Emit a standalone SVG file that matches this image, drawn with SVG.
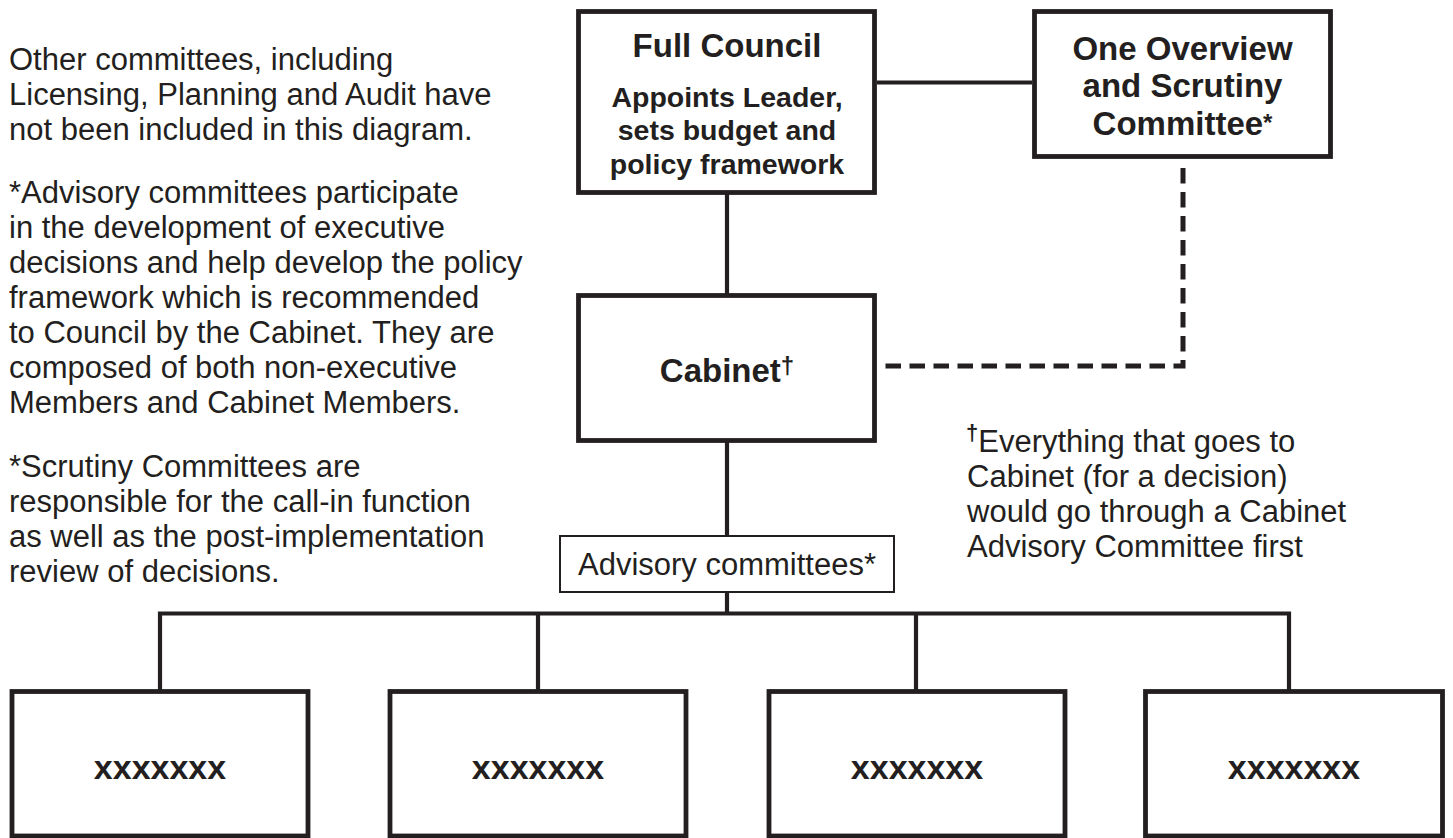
<svg xmlns="http://www.w3.org/2000/svg" width="1453" height="838" viewBox="0 0 1453 838">
<style>
text { font-family: "Liberation Sans", Arial, sans-serif; fill: #231f20; }
.note { font-size: 31px; }
.title { font-size: 33px; font-weight: bold; text-anchor: middle; }
.sub { font-size: 28.5px; font-weight: bold; text-anchor: middle; }
.box { fill: #ffffff; stroke: #231f20; stroke-width: 4.8; }
.thin { fill: #ffffff; stroke: #231f20; stroke-width: 2; }
.line { fill: none; stroke: #231f20; stroke-width: 4.2; }
.dash { fill: none; stroke: #231f20; stroke-width: 5; stroke-dasharray: 15.5 8.5; stroke-dashoffset: 16; }
.x { font-size: 34px; font-weight: bold; text-anchor: middle; }
</style>
<rect width="1453" height="838" fill="#ffffff"/>

<g id="connectors">
  <line class="line" x1="877" y1="82.5" x2="1032" y2="82.5"/>
  <line class="line" x1="727" y1="193" x2="727" y2="296"/>
  <line class="line" x1="727" y1="441" x2="727" y2="536"/>
  <line class="line" x1="727" y1="592" x2="727" y2="613.5"/>
  <path class="line" d="M160 692 V613.5 H1289 V692"/>
  <line class="line" x1="538" y1="613.5" x2="538" y2="692"/>
  <line class="line" x1="916" y1="613.5" x2="916" y2="692"/>
  <path class="dash" d="M1183 160 V366 H883"/>
</g>

<g id="notes-left">
  <text class="note" x="9" y="70">Other committees, including</text>
  <text class="note" x="9" y="105">Licensing, Planning and Audit have</text>
  <text class="note" x="9" y="140">not been included in this diagram.</text>
  <text class="note" x="9" y="203">*Advisory committees participate</text>
  <text class="note" x="9" y="238">in the development of executive</text>
  <text class="note" x="9" y="273">decisions and help develop the policy</text>
  <text class="note" x="9" y="308">framework which is recommended</text>
  <text class="note" x="9" y="343">to Council by the Cabinet. They are</text>
  <text class="note" x="9" y="378">composed of both non-executive</text>
  <text class="note" x="9" y="413">Members and Cabinet Members.</text>
  <text class="note" x="9" y="477">*Scrutiny Committees are</text>
  <text class="note" x="9" y="512">responsible for the call-in function</text>
  <text class="note" x="9" y="547">as well as the post-implementation</text>
  <text class="note" x="9" y="582">review of decisions.</text>
</g>

<g id="note-right">
  <text class="note" x="966" y="452"><tspan font-weight="bold" font-size="22" dy="-12">†</tspan><tspan dy="12">Everything that goes to</tspan></text>
  <text class="note" x="967" y="487">Cabinet (for a decision)</text>
  <text class="note" x="967" y="522">would go through a Cabinet</text>
  <text class="note" x="967" y="557">Advisory Committee first</text>
</g>

<g id="full-council">
  <rect class="box" x="578.5" y="11.5" width="296" height="181"/>
  <text class="title" x="727" y="57">Full Council</text>
  <text class="sub" x="727" y="107">Appoints Leader,</text>
  <text class="sub" x="727" y="140">sets budget and</text>
  <text class="sub" x="727" y="174">policy framework</text>
</g>

<g id="overview-scrutiny">
  <rect class="box" x="1034.5" y="11.5" width="296" height="145"/>
  <text class="title" x="1182.5" y="60">One Overview</text>
  <text class="title" x="1182.5" y="97">and Scrutiny</text>
  <text class="title" x="1182.5" y="135">Committee<tspan font-size="24" dy="-4">*</tspan></text>
</g>

<g id="cabinet">
  <rect class="box" x="578.5" y="295.5" width="296" height="145"/>
  <text class="title" x="727" y="382">Cabinet<tspan font-size="24" dy="-8">†</tspan></text>
</g>

<g id="advisory">
  <rect class="thin" x="560" y="536" width="334" height="56"/>
  <text class="note" x="727" y="575" text-anchor="middle">Advisory committees*</text>
</g>

<g id="box-1">
  <rect class="box" x="12" y="691.5" width="296" height="144.5"/>
  <text class="x" x="160" y="779">xxxxxxx</text>
</g>
<g id="box-2">
  <rect class="box" x="390" y="691.5" width="296" height="144.5"/>
  <text class="x" x="538" y="779">xxxxxxx</text>
</g>
<g id="box-3">
  <rect class="box" x="769" y="691.5" width="296" height="144.5"/>
  <text class="x" x="917" y="779">xxxxxxx</text>
</g>
<g id="box-4">
  <rect class="box" x="1145.5" y="691.5" width="297" height="144.5"/>
  <text class="x" x="1294" y="779">xxxxxxx</text>
</g>
</svg>
